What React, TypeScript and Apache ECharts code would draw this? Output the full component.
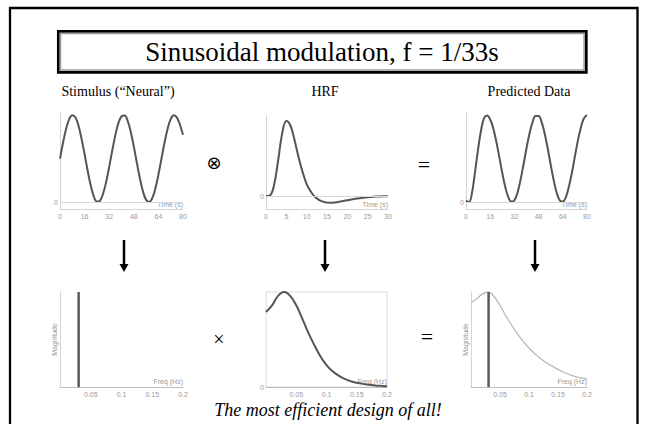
import React, { useEffect, useRef } from "react";
import * as echarts from "echarts";

// ---- data ----
const stimTicks = [0, 16, 32, 48, 64, 80];
const hrfTicks = [0, 5, 10, 15, 20, 25, 30];
const freqTicks = [0, 0.05, 0.1, 0.15, 0.2];

const stimTime = [0,2,4,6,8,10,12,14,16,18,20,22,24,26,28,30,32,34,36,38,40,42,44,46,48,50,52,54,56,58,60,62,64,66,68,70,72,74,76,78,80];
const stimValues = [1.00,1.37,1.69,1.91,2.00,1.95,1.76,1.46,1.10,0.72,0.38,0.13,0.01,0.03,0.19,0.46,0.81,1.19,1.54,1.82,1.97,1.99,1.87,1.62,1.28,0.90,0.54,0.24,0.05,0.00,0.09,0.31,0.63,1.00,1.37,1.69,1.91,2.00,1.95,1.78,1.55];

const hrfTime = [0,1,2,3,4,5,6,7,8,9,10,11,12,13,14,15,16,17,18,19,20,21,22,23,24,25,26,27,28,29,30];
const hrfValues = [0,0.01,0.15,0.48,0.84,1.00,0.94,0.75,0.52,0.32,0.16,0.06,-0.01,-0.05,-0.075,-0.088,-0.09,-0.085,-0.076,-0.066,-0.056,-0.046,-0.037,-0.029,-0.022,-0.016,-0.012,-0.008,-0.005,-0.003,-0.002];

const predTime = [0,2,4,6,8,10,12,14,16,18,20,22,24,26,28,30,32,34,36,38,40,42,44,46,48,50,52,54,56,58,60,62,64,66,68,70,72,74,76,78,80];
const predValues = [0.03,0.00,0.22,0.70,1.22,1.66,1.94,1.99,1.90,1.70,1.40,1.04,0.67,0.34,0.11,0.01,0.04,0.21,0.50,0.86,1.24,1.58,1.84,1.98,1.98,1.84,1.58,1.24,0.86,0.50,0.21,0.04,0.01,0.11,0.35,0.67,1.05,1.42,1.72,1.93,2.00];

const freqs = [0,0.01,0.02,0.03,0.04,0.05,0.06,0.07,0.08,0.09,0.1,0.11,0.12,0.13,0.14,0.15,0.16,0.17,0.18,0.19,0.2];
const hrfSpectrum = [0.79,0.86,0.96,1.00,0.96,0.86,0.72,0.57,0.44,0.32,0.23,0.165,0.12,0.085,0.06,0.045,0.033,0.024,0.017,0.012,0.008];
const predSpectrum = [0.89,0.93,0.98,1.00,0.95,0.86,0.75,0.65,0.56,0.48,0.41,0.35,0.30,0.255,0.22,0.185,0.155,0.13,0.11,0.095,0.08];

const stimFreq = [0.0303, 0.0303];
const stimMag = [0, 1];

const titleText = "Sinusoidal modulation, f = 1/33s";
const panelTitles = ["Stimulus (\u201cNeural\u201d)", "HRF", "Predicted Data"];
const footerText = "The most efficient design of all!";

// ---- styles ----
const SERIF = '"Liberation Serif", "Times New Roman", serif';
const SANS = '"Liberation Sans", Arial, sans-serif';
const tickLabel = { color: "#9a9a9a", fontSize: 7, fontFamily: SANS };
const CURVE = "#555555";

const pairs = (xs: number[], ys: number[]) => xs.map((x, i) => [x, ys[i]]);

function xAxisCfg(gridIndex: number, ticks: number[], name: string, hideZero: boolean, lineColor: string, nameBottom: number) {
  return {
    type: "value",
    gridIndex,
    min: ticks[0],
    max: ticks[ticks.length - 1],
    interval: ticks[1] - ticks[0],
    name,
    nameLocation: "end",
    nameGap: 0,
    nameTextStyle: { ...tickLabel, align: "right", verticalAlign: "bottom", padding: [0, 0, nameBottom, 0] },
    axisLine: { show: true, onZero: false, lineStyle: { color: lineColor, width: 1 } },
    axisTick: { show: false },
    splitLine: { show: false },
    axisLabel: {
      ...tickLabel,
      margin: 4,
      formatter: (v: number) => (hideZero && v === 0 ? "" : String(v)),
    },
  };
}

function yAxisCfg(gridIndex: number, min: number, max: number, extra: any = {}) {
  return {
    type: "value",
    gridIndex,
    min,
    max,
    axisLine: { show: true, onZero: false, lineStyle: { color: "#d4d4d4", width: 1 } },
    axisTick: { show: false },
    splitLine: { show: false },
    axisLabel: { show: false },
    ...extra,
  };
}

const zeroLine = {
  silent: true,
  symbol: ["none", "none"],
  lineStyle: { color: "#d8d8d8", type: "solid", width: 1 },
  label: { show: true, position: "start", formatter: "0", distance: 2, ...tickLabel },
  data: [{ yAxis: 0 }],
};

function arrow(x: number, y0: number, y1: number) {
  return [
    { type: "line", shape: { x1: x, y1: y0, x2: x, y2: y1 - 6 }, style: { stroke: "#000", lineWidth: 2.5 } },
    { type: "polygon", shape: { points: [[x - 4.5, y1 - 8], [x + 4.5, y1 - 8], [x, y1]] }, style: { fill: "#000" } },
  ];
}

function txt(text: string, x: number, y: number, font: string, fill = "#000") {
  return {
    type: "text",
    x,
    y,
    style: { text, font, fill, align: "center", verticalAlign: "middle", textAlign: "center", textVerticalAlign: "middle" },
  };
}

export default function App() {
  const ref = useRef<HTMLDivElement>(null);
  useEffect(() => {
    if (!ref.current) return;
    const chart = echarts.init(ref.current, null, { renderer: "svg" });
    const option: any = {
      animation: false,
      backgroundColor: "#ffffff",
      grid: [
        { left: 60, top: 113, width: 123, height: 96 },
        { left: 266, top: 115, width: 122, height: 94 },
        { left: 466, top: 113, width: 121, height: 96 },
        { left: 60, top: 292, width: 123, height: 95 },
        { left: 266, top: 292, width: 121, height: 95, show: true, borderColor: "#dcdcdc", borderWidth: 1 },
        { left: 471, top: 292, width: 116, height: 95 },
      ],
      xAxis: [
        xAxisCfg(0, stimTicks, "Time (s)", false, "#d4d4d4", 1),
        xAxisCfg(1, hrfTicks, "Time (s)", false, "#d4d4d4", 1),
        xAxisCfg(2, stimTicks, "Time (s)", false, "#d4d4d4", 1),
        xAxisCfg(3, freqTicks, "Freq (Hz)", true, "#bdbdbd", 2),
        xAxisCfg(4, freqTicks, "Freq (Hz)", true, "#bdbdbd", 2),
        xAxisCfg(5, freqTicks, "Freq (Hz)", true, "#bdbdbd", 2),
      ],
      yAxis: [
        yAxisCfg(0, -0.16, 2.05),
        yAxisCfg(1, -0.173, 1.08),
        yAxisCfg(2, -0.16, 2.05),
        yAxisCfg(3, 0, 1, {
          name: "Magnitude", nameLocation: "middle", nameRotate: 90, nameGap: 2,
          nameTextStyle: { ...tickLabel },
        }),
        yAxisCfg(4, 0, 1, {
          interval: 1,
          axisLine: { show: false },
          axisLabel: { ...tickLabel, margin: 2, formatter: (v: number) => (v === 0 ? "0" : "") },
        }),
        yAxisCfg(5, 0, 1, {
          name: "Magnitude", nameLocation: "middle", nameRotate: 90, nameGap: 2,
          nameTextStyle: { ...tickLabel },
        }),
      ],
      series: [
        {
          type: "line", xAxisIndex: 0, yAxisIndex: 0, data: pairs(stimTime, stimValues),
          showSymbol: false, smooth: 0.4, lineStyle: { color: CURVE, width: 2 }, markLine: zeroLine,
        },
        {
          type: "line", xAxisIndex: 1, yAxisIndex: 1, data: pairs(hrfTime, hrfValues),
          showSymbol: false, smooth: 0.4, lineStyle: { color: CURVE, width: 2 }, markLine: zeroLine,
        },
        {
          type: "line", xAxisIndex: 2, yAxisIndex: 2, data: pairs(predTime, predValues),
          showSymbol: false, smooth: 0.4, lineStyle: { color: CURVE, width: 2 }, markLine: zeroLine,
        },
        {
          type: "line", xAxisIndex: 3, yAxisIndex: 3, data: pairs(stimFreq, stimMag),
          showSymbol: false, lineStyle: { color: "#5a5a5a", width: 2.5 },
        },
        {
          type: "line", xAxisIndex: 4, yAxisIndex: 4, data: pairs(freqs, hrfSpectrum),
          showSymbol: false, smooth: 0.4, lineStyle: { color: CURVE, width: 2 },
        },
        {
          type: "line", xAxisIndex: 5, yAxisIndex: 5, data: pairs(freqs, predSpectrum),
          showSymbol: false, smooth: 0.4, lineStyle: { color: "#b8b8b8", width: 1.3 },
        },
        {
          type: "line", xAxisIndex: 5, yAxisIndex: 5, data: pairs(stimFreq, stimMag),
          showSymbol: false, lineStyle: { color: "#5a5a5a", width: 2.5 },
        },
      ],
      graphic: [
        // outer slide frame
        { type: "rect", shape: { x: 10, y: 8, width: 627.5, height: 440 }, style: { fill: "none", stroke: "#000", lineWidth: 2.3 } },
        // title box (double border)
        { type: "rect", shape: { x: 58.3, y: 31.3, width: 528, height: 41 }, style: { fill: "none", stroke: "#000", lineWidth: 2.7 } },
        { type: "rect", shape: { x: 60.5, y: 33.5, width: 523.6, height: 36.6 }, style: { fill: "none", stroke: "#9a9a9a", lineWidth: 1.5 } },
        txt(titleText, 322, 52, `27px ${SERIF}`),
        txt(panelTitles[0], 118, 91, `14px ${SERIF}`),
        txt(panelTitles[1], 325, 91, `14px ${SERIF}`),
        txt(panelTitles[2], 529, 91, `14px ${SERIF}`),
        txt("\u2297", 214, 162, `18px "DejaVu Sans", sans-serif`),
        txt("=", 424, 164, `22px ${SERIF}`),
        txt("\u00d7", 219, 339, `20px ${SERIF}`),
        txt("=", 427, 336, `22px ${SERIF}`),
        ...arrow(124, 240, 272),
        ...arrow(325, 240, 272),
        ...arrow(535, 240, 272),
        txt(footerText, 328, 410, `italic 18px ${SERIF}`),
      ],
    };
    chart.setOption(option);
    return () => chart.dispose();
  }, []);
  return (
    <div
      ref={ref}
      style={{ position: "absolute", left: 0, top: 0, width: 646, height: 424, background: "#fff" }}
    />
  );
}
